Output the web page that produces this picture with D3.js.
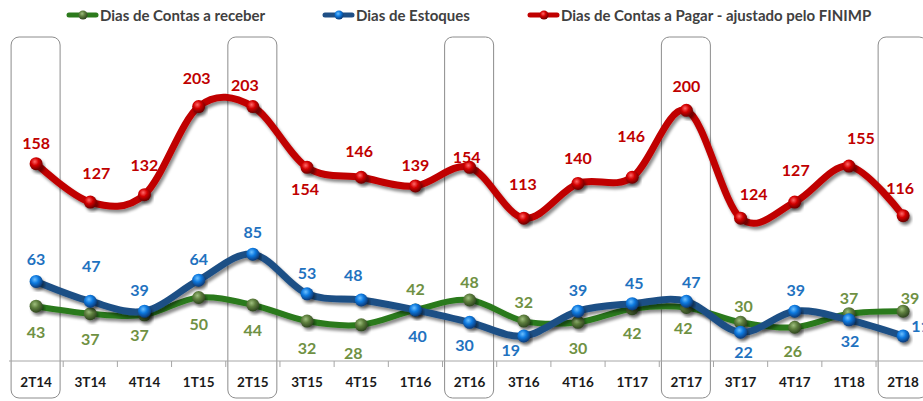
<!DOCTYPE html>
<html>
<head>
<meta charset="utf-8">
<script src="https://cdn.jsdelivr.net/npm/d3@7/dist/d3.min.js"></script>
<style>
  body { margin: 0; background: #fff; }
  svg { display: block; font-family: Lato, "Open Sans", sans-serif; }
</style>
</head>
<body>
<svg id="chart"></svg>
<script>
const categories = ["2T14","3T14","4T14","1T15","2T15","3T15","4T15","1T16","2T16","3T16","4T16","1T17","2T17","3T17","4T17","1T18","2T18"]
const highlighted = ["2T14","2T15","2T16","2T17","2T18"]

const receber  = [43, 37, 36, 50, 44, 31, 28, 40, 48, 31, 30, 41, 42, 30, 26, 37, 39]
const estoques = [63, 47, 39, 64, 85, 53, 48, 40, 30, 19, 39, 45, 47, 22, 39, 32, 19]
const pagar    = [158, 127, 133, 204, 204, 155, 147, 140, 155, 114, 142, 147, 201, 114, 127, 156, 116]

const receberLabels  = ["43","37","37","50","44","32","28","42","48","32","30","42","42","30","26","37","39"]
const estoquesLabels = ["63","47","39","64","85","53","48","40","30","19","39","45","47","22","39","32","11"]
const pagarLabels    = ["158","127","132","203","203","154","146","139","154","113","140","146","200","124","127","155","116"]

// label placement [dx, dy] relative to the marker
const receberPos  = [[0,25],[0,25],[-5,20],[0,26],[0,25],[0,26],[-8,28],[0,-21],[0,-18],[0,-20],[0,25],[0,24],[-3,20],[3,-17],[-2,23],[0,-16],[7,-14]]
const estoquesPos = [[0,-23],[1,-36],[-5,-22],[0,-22],[0,-23],[0,-21],[-8,-25],[2,26],[-5,22],[-13,14],[0,-22],[2,-21],[5,-20],[3,19],[1,-22],[1,21],[8,-10]]
const pagarPos    = [[0,-21],[6,-30],[0,-30],[-2,-29],[-8,-22],[-2,21],[-2,-27],[0,-21],[-3,-11],[-1,-35],[0,-26],[-1,-42],[0,-25],[13,-25],[1,-33],[12,-29],[-3,-28]]

const width = 923
const height = 401

const svg = d3.select("#chart").attr("width", width).attr("height", height)
const defs = svg.append("defs")

const shadow = defs.append("filter").attr("id", "shadow")
    .attr("x", "-10%").attr("y", "-30%").attr("width", "130%").attr("height", "160%")
shadow.append("feDropShadow").attr("dx", 2).attr("dy", 3).attr("stdDeviation", 1.8)
    .attr("flood-color", "#000").attr("flood-opacity", 0.45)

const makeBall = (id, hi, mid, dark) => {
    const g = defs.append("radialGradient").attr("id", id)
        .attr("cx", "40%").attr("cy", "35%").attr("r", "65%")
    g.append("stop").attr("offset", "0%").attr("stop-color", hi)
    g.append("stop").attr("offset", "45%").attr("stop-color", mid)
    g.append("stop").attr("offset", "100%").attr("stop-color", dark)
}
makeBall("ballRed", "#ff6a6a", "#d40000", "#6a0000")
makeBall("ballBlue", "#6cc0ff", "#0f7ae0", "#083a78")
makeBall("ballGreen", "#9fbf7f", "#5e7f3e", "#2f4520")

const x = d3.scaleBand().domain(categories).range([9, 9 + 17 * 54.19])
const y = d3.scaleLinear().domain([0, 290]).range([359.5, 0])
const cx = c => x(c) + x.bandwidth() / 2

// highlight boxes
svg.append("g").selectAll("rect")
    .data(highlighted)
    .enter()
    .append("rect")
    .attr("x", d => cx(d) - 25)
    .attr("y", 37)
    .attr("width", 49)
    .attr("height", 361)
    .attr("rx", 8)
    .attr("fill", "none")
    .attr("stroke", "#8c8c8c")
    .attr("stroke-width", 1)

// x axis
const xAxis = d3.axisBottom(x).tickSize(0).tickPadding(16)
const axisG = svg.append("g")
    .attr("transform", "translate(0," + 361 + ")")
    .call(xAxis)
axisG.select(".domain").attr("stroke", "#a6a6a6").attr("d", "M" + 9 + ",0H" + width)
axisG.selectAll("text")
    .attr("font-size", 13.5)
    .attr("font-weight", 700)
    .attr("fill", "#1a1a1a")
    .attr("font-family", "Lato, sans-serif")
axisG.selectAll(".bound")
    .data(categories.slice(1))
    .enter()
    .append("line")
    .attr("class", "bound")
    .attr("x1", d => x(d)).attr("x2", d => x(d))
    .attr("y1", 0).attr("y2", 6)
    .attr("stroke", "#a6a6a6")

const series = [
    { name: "Dias de Contas a receber", values: receber, labels: receberLabels, pos: receberPos,
      line: "#2c7a1c", text: "#6f9143", ball: "ballGreen", width: 6 },
    { name: "Dias de Estoques", values: estoques, labels: estoquesLabels, pos: estoquesPos,
      line: "#1f4f85", text: "#1f72c0", ball: "ballBlue", width: 7 },
    { name: "Dias de Contas a Pagar - ajustado pelo FINIMP", values: pagar, labels: pagarLabels, pos: pagarPos,
      line: "#c00000", text: "#c00000", ball: "ballRed", width: 7 }
]

const line = d3.line()
    .x((d, i) => cx(categories[i]))
    .y(d => y(d))
    .curve(d3.curveCardinal.tension(0))

series.forEach(s => {
    const g = svg.append("g")
    g.append("path")
        .attr("d", line(s.values))
        .attr("fill", "none")
        .attr("stroke", s.line)
        .attr("stroke-width", s.width)
        .attr("stroke-linecap", "round")
        .attr("filter", "url(#shadow)")
    g.selectAll("circle")
        .data(s.values)
        .enter()
        .append("circle")
        .attr("cx", (d, i) => cx(categories[i]))
        .attr("cy", d => y(d))
        .attr("r", 6.5)
        .attr("fill", "url(#" + s.ball + ")")
        .attr("filter", "url(#shadow)")
})

series.forEach(s => {
    svg.append("g").selectAll("text")
        .data(s.values)
        .enter()
        .append("text")
        .attr("x", (d, i) => cx(categories[i]) + s.pos[i][0])
        .attr("y", (d, i) => y(d) + s.pos[i][1])
        .attr("text-anchor", (d, i) => i == 16 && s.name == "Dias de Estoques" ? "start" : "middle")
        .attr("dominant-baseline", "central")
        .attr("font-size", 16)
        .attr("font-weight", 700)
        .attr("fill", s.text)
        .text((d, i) => s.labels[i])
})

// legend
const legendX = [67, 323, 528]
const legend = svg.append("g")
series.forEach((s, i) => {
    const lg = legend.append("g").attr("transform", "translate(" + legendX[i] + ",15)")
    lg.append("line")
        .attr("x1", 2).attr("x2", 29)
        .attr("stroke", s.line)
        .attr("stroke-width", 5)
        .attr("stroke-linecap", "round")
    lg.append("circle")
        .attr("cx", 16).attr("r", 4.5)
        .attr("fill", "url(#" + s.ball + ")")
    lg.append("text")
        .attr("x", 33)
        .attr("dominant-baseline", "central")
        .attr("font-size", 15)
        .attr("font-weight", 700)
        .attr("fill", "#404040")
        .text(s.name)
})
</script>
</body>
</html>
